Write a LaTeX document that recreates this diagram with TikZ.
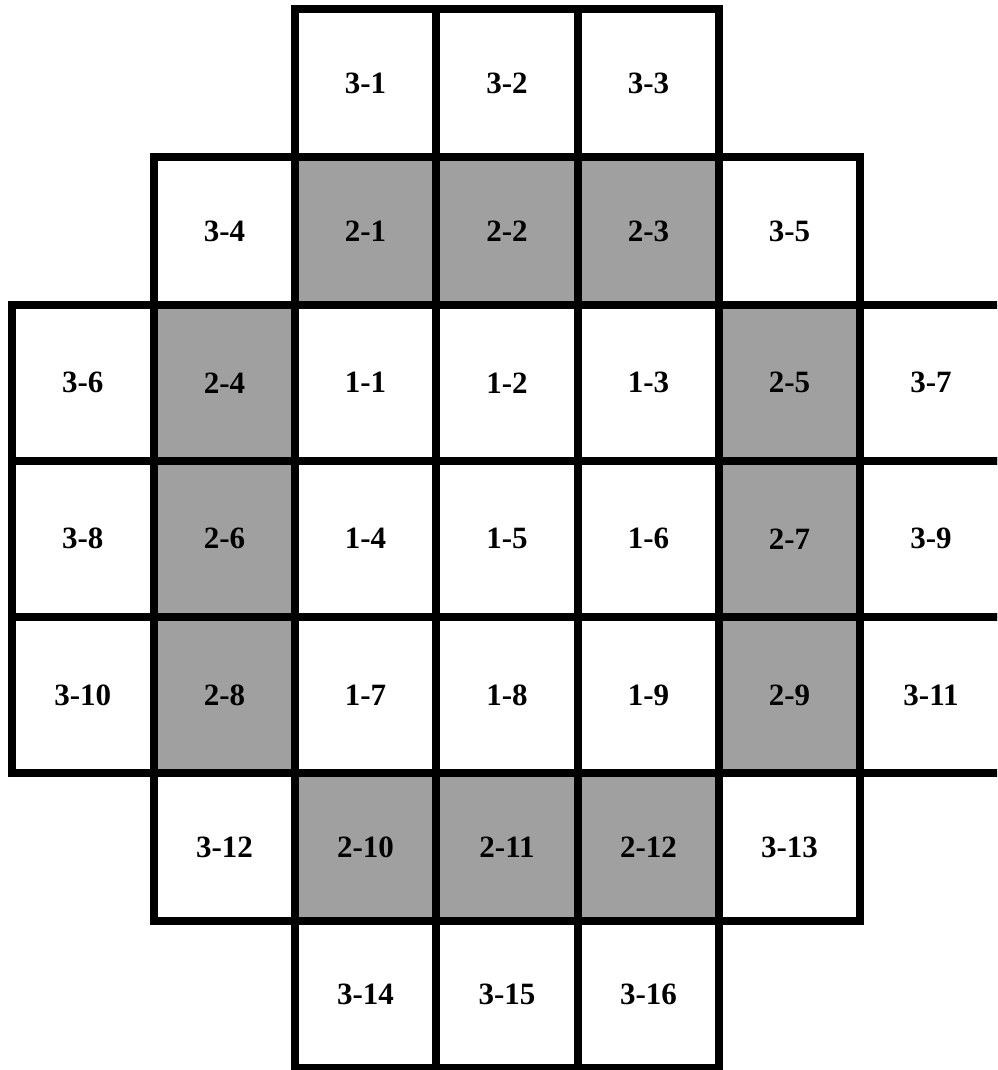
\documentclass[tikz,border=0pt]{standalone}
\usepackage{fontspec}
\setmainfont{Liberation Serif}
\definecolor{cellgray}{RGB}{160,160,160}
\tikzset{
  cell/.style={draw=black, line width=8pt, fill=white, inner sep=0pt, outer sep=0pt,
    minimum width=141.5pt, font=\bfseries\fontsize{31}{36}\selectfont},
  gcell/.style={cell, fill=cellgray},
  rowA/.style={minimum height=148pt},
  rowB/.style={minimum height=155.5pt},
  rowC/.style={minimum height=156.5pt},
  rowD/.style={minimum height=156pt},
  rowE/.style={minimum height=147pt}
}
\begin{document}
\begin{tikzpicture}[x=1pt,y=-1pt]
\clip (0,0) rectangle (997,1070);
\useasboundingbox (0,0) rectangle (997,1070);
% row 1
\node[cell,rowA] (n3-1) at (365.5,83) {3-1};
\node[cell,rowA] (n3-2) at (507,83) {3-2};
\node[cell,rowA] (n3-3) at (648.5,83) {3-3};
% row 2
\node[cell,rowA] (n3-4) at (224.5,231) {3-4};
\node[gcell,rowA] (n2-1) at (365.5,231) {2-1};
\node[gcell,rowA] (n2-2) at (507,231) {2-2};
\node[gcell,rowA] (n2-3) at (648.5,231) {2-3};
\node[cell,rowA] (n3-5) at (789.5,231) {3-5};
% row 3
\node[cell,rowB] (n3-6) at (82.75,382.75) {3-6};
\node[gcell,rowB] (n2-4) at (224.5,382.75) {2-4};
\node[cell,rowB] (n1-1) at (365.5,382.75) {1-1};
\node[cell,rowB] (n1-2) at (507,382.75) {1-2};
\node[cell,rowB] (n1-3) at (648.5,382.75) {1-3};
\node[gcell,rowB] (n2-5) at (789.5,382.75) {2-5};
\node[cell,rowB] (n3-7) at (931,382.75) {3-7};
% row 4
\node[cell,rowC] (n3-8) at (82.75,538.75) {3-8};
\node[gcell,rowC] (n2-6) at (224.5,538.75) {2-6};
\node[cell,rowC] (n1-4) at (365.5,538.75) {1-4};
\node[cell,rowC] (n1-5) at (507,538.75) {1-5};
\node[cell,rowC] (n1-6) at (648.5,538.75) {1-6};
\node[gcell,rowC] (n2-7) at (789.5,538.75) {2-7};
\node[cell,rowC] (n3-9) at (931,538.75) {3-9};
% row 5
\node[cell,rowD] (n3-10) at (82.75,695) {3-10};
\node[gcell,rowD] (n2-8) at (224.5,695) {2-8};
\node[cell,rowD] (n1-7) at (365.5,695) {1-7};
\node[cell,rowD] (n1-8) at (507,695) {1-8};
\node[cell,rowD] (n1-9) at (648.5,695) {1-9};
\node[gcell,rowD] (n2-9) at (789.5,695) {2-9};
\node[cell,rowD] (n3-11) at (931,695) {3-11};
% row 6
\node[cell,rowA] (n3-12) at (224.5,847) {3-12};
\node[gcell,rowA] (n2-10) at (365.5,847) {2-10};
\node[gcell,rowA] (n2-11) at (507,847) {2-11};
\node[gcell,rowA] (n2-12) at (648.5,847) {2-12};
\node[cell,rowA] (n3-13) at (789.5,847) {3-13};
% row 7
\node[cell,rowE] (n3-14) at (365.5,994.5) {3-14};
\node[cell,rowE] (n3-15) at (507,994.5) {3-15};
\node[cell,rowE] (n3-16) at (648.5,994.5) {3-16};
\end{tikzpicture}
\end{document}
